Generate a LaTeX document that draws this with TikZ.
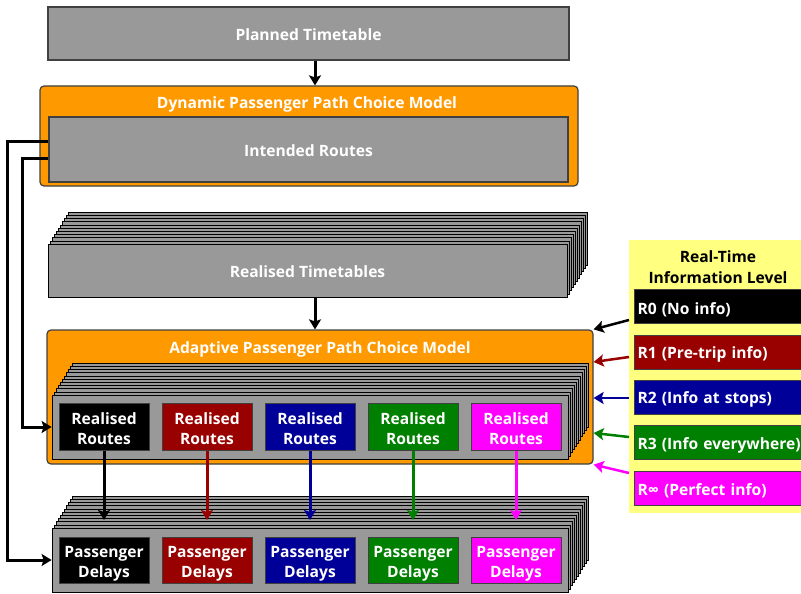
\documentclass[tikz,border=0pt]{standalone}
\usepackage{fontspec}
\setmainfont{Open Sans}
\usetikzlibrary{arrows.meta,calc}
\definecolor{boxgray}{HTML}{999999}
\definecolor{edgegray}{HTML}{404040}
\definecolor{orng}{HTML}{FF9900}
\definecolor{legyel}{HTML}{FFFF80}
\definecolor{cR}{HTML}{990000}
\definecolor{cB}{HTML}{000099}
\definecolor{cG}{HTML}{008000}
\definecolor{cM}{HTML}{FF00FF}
\newcommand\stacklayers[4]{%
  \foreach \i in {10,9,...,1}{%
    \draw[layer] ($(#1,#2)+(2*\i,-3.2*\i)$) rectangle ($(#3,#4)+(2*\i,-3.2*\i)$);}}
\newcommand\RR{\rule{0pt}{16pt}Realised\\Routes}
\newcommand\PD{\rule{0pt}{19pt}Passenger\\Delays}
\tikzset{
  every node/.style={font=\bfseries\fontsize{15.6}{20}\selectfont, text=white, align=center, inner sep=0pt},
  lowtext/.style={execute at begin node={\rule{0pt}{#1}}},
  graybox/.style={draw=edgegray, line width=1.2pt, fill=boxgray, lowtext=14.5pt},
  layer/.style={draw=black, line width=0.6pt, fill=boxgray},
  orbox/.style={draw=edgegray, line width=1.2pt, fill=orng, rounded corners=4pt},
  cbox/.style={draw=edgegray, line width=1pt, minimum width=90, minimum height=47},
  dbox/.style={cbox, minimum height=46},
  bar/.style={draw=edgegray, line width=1pt, minimum width=172, minimum height=34, anchor=west, text width=166, align=left, lowtext=17.5pt},
  tip/.style={-{Stealth[length=10pt,width=12pt,inset=2pt]}},
  arr/.style={line width=3pt, tip},
  larr/.style={line width=2.5pt, tip},
  conn/.style={line width=3pt, line join=miter, tip},
}
\begin{document}
\begin{tikzpicture}[x=1pt,y=-1pt]
\useasboundingbox (0,0) rectangle (801,594);
% planned timetable
\node[graybox, minimum width=521, minimum height=53] (plan) at (308.5,33.5) {Planned Timetable};
% dynamic model
\node[orbox, minimum width=538, minimum height=100] (dyn) at (309,136) {};
\node (dyntitle) at (307,104.5) {Dynamic Passenger Path Choice Model};
\node[graybox, minimum width=519, minimum height=65] (intended) at (308.5,149.5) {Intended Routes};
% realised timetables stack
\stacklayers{48}{244}{567}{297}
\node[graybox, line width=0.8pt, draw=black, minimum width=519, minimum height=53] (realtt) at (307.5,270.5) {Realised Timetables};
% adaptive model
\node[orbox, minimum width=546, minimum height=134] (adapt) at (320,397) {};
\node (adtitle) at (320,349.5) {Adaptive Passenger Path Choice Model};
\stacklayers{52}{395}{568}{459}
\node[graybox, line width=0.8pt, draw=black, minimum width=516, minimum height=64] (inner) at (310,427) {};
\node[cbox, fill=black] (rr0) at (104,426.5) {\RR};
\node[cbox, fill=cR] (rr1) at (207,426.5) {\RR};
\node[cbox, fill=cB] (rr2) at (310,426.5) {\RR};
\node[cbox, fill=cG] (rr3) at (413,426.5) {\RR};
\node[cbox, fill=cM] (rr4) at (516,426.5) {\RR};
% passenger delays stack
\stacklayers{52}{528}{568}{592}
\node[graybox, line width=0.8pt, draw=black, minimum width=516, minimum height=64] (pd) at (310,560) {};
\node[dbox, fill=black] (pd0) at (104,560) {\PD};
\node[dbox, fill=cR] (pd1) at (207,560) {\PD};
\node[dbox, fill=cB] (pd2) at (310,560) {\PD};
\node[dbox, fill=cG] (pd3) at (413,560) {\PD};
\node[dbox, fill=cM] (pd4) at (516,560) {\PD};
% vertical arrows
\draw[arr] ([xshift=6.5pt]plan.south) -- ([xshift=6.5pt]plan.south |- dyn.north);
\draw[arr] ([xshift=7.5pt]realtt.south) -- ([xshift=7.5pt]realtt.south |- adapt.north);
\coordinate (t0) at (104,520);
\draw[arr, black] (rr0.south) -- (t0);
\draw[arr, cR] (rr1.south) -- (t0 -| rr1);
\draw[arr, cB] (rr2.south) -- (t0 -| rr2);
\draw[arr, cG] (rr3.south) -- (t0 -| rr3);
\draw[arr, cM] (rr4.south) -- (t0 -| rr4);
% left connectors
\coordinate (k1) at (7,141);
\coordinate (k2) at (22,158);
\draw[conn] (intended.west |- k1) -- (k1) -- (k1 |- pd.west) -- (pd.west);
\draw[conn] (intended.west |- k2) -- (k2) -- (k2 |- inner.west) -- (inner.west);
% legend
\node[draw=none, fill=legyel, minimum width=180, minimum height=273, anchor=north west] (leg) at (629,240) {};
\node[text=black, font=\bfseries\fontsize{15.6}{21}\selectfont] (legtitle) at (718,267.5) {Real-Time\\Information Level};
\node[bar, fill=black] (b0) at (634,306.5) {R0 (No info)};
\node[bar, fill=cR] (b1) at (634,352) {R1 (Pre-trip info)};
\node[bar, fill=cB] (b2) at (634,397) {R2 (Info at stops)};
\node[bar, fill=cG] (b3) at (634,442.5) {R3 (Info everywhere)};
\node[bar, fill=cM] (b4) at (634,488) {R\char"221E{} (Perfect info)};
\coordinate (s0) at (629,320);
\coordinate (s1) at (629,357);
\coordinate (s2) at (629,398);
\coordinate (s3) at (629,437);
\coordinate (s4) at (629,473);
\draw[larr, black] (s0) -- (adapt.north east);
\draw[larr, cR] (s1) -- (adapt.east |- 0,362);
\draw[larr, cB] (s2) -- (adapt.east |- s2);
\draw[larr, cG] (s3) -- (adapt.east |- 0,433);
\draw[larr, cM] (s4) -- (adapt.south east);
\end{tikzpicture}
\end{document}
